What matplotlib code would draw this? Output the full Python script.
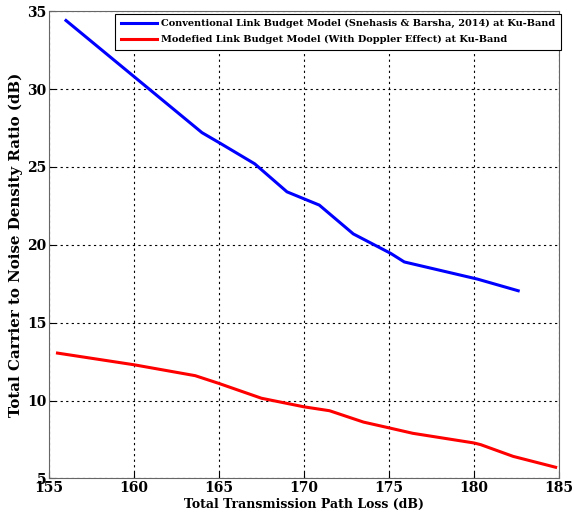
import matplotlib
matplotlib.use('Agg')
import matplotlib.pyplot as plt

# Conventional model (blue)
x_conv = [156.0, 160.0, 164.0, 165.1, 167.1, 169.0, 170.9, 172.9, 175.1, 175.9, 180.2, 182.6]
y_conv = [34.4, 30.8, 27.2, 26.5, 25.2, 23.4, 22.55, 20.7, 19.45, 18.9, 17.8, 17.05]

# Modified model with Doppler (red)
x_mod = [155.5, 160.0, 163.6, 165.0, 167.5, 170.0, 171.5, 173.5, 175.0, 176.4, 180.0, 180.4, 182.3, 184.8]
y_mod = [13.05, 12.3, 11.6, 11.1, 10.15, 9.6, 9.35, 8.62, 8.25, 7.9, 7.28, 7.17, 6.42, 5.72]

label_conv = 'Conventional Link Budget Model (Snehasis & Barsha, 2014) at Ku-Band'
label_mod = 'Modefied Link Budget Model (With Doppler Effect) at Ku-Band'

plt.rcParams['font.family'] = 'DejaVu Serif'
plt.rcParams['font.weight'] = 'bold'

fig = plt.figure(figsize=(5.75, 5.21), dpi=100)
ax = fig.add_axes([0.0852, 0.0816, 0.887, 0.897])

ax.plot(x_conv, y_conv, color='#0000ff', linewidth=2.2, label=label_conv)
ax.plot(x_mod, y_mod, color='#ff0000', linewidth=2.2, label=label_mod)

ax.set_xlim(155, 185)
ax.set_ylim(5, 35)
ax.set_xticks([155, 160, 165, 170, 175, 180, 185])
ax.set_yticks([5, 10, 15, 20, 25, 30, 35])
ax.grid(True, color='black', linestyle=(0, (2, 3)), linewidth=0.8)
ax.tick_params(direction='in', labelsize=10, pad=2, length=4)
for lab in ax.get_xticklabels() + ax.get_yticklabels():
    lab.set_fontweight('bold')
for s in ax.spines.values():
    s.set_color('#666666')

ax.set_xlabel('Total Transmission Path Loss (dB)', fontsize=9, fontweight='bold', labelpad=2)
ax.set_ylabel('Total Carrier to Noise Density Ratio (dB)', fontsize=10.8, fontweight='bold', labelpad=3)

leg = ax.legend(loc='upper right', bbox_to_anchor=(561 / 575, 1 - 14 / 521),
                bbox_transform=fig.transFigure, borderaxespad=0,
                fancybox=False, framealpha=1, edgecolor='black',
                handlelength=3.7, handletextpad=0.5, labelspacing=0.68,
                borderpad=0.55, prop={'weight': 'bold', 'size': 7})
leg.get_frame().set_linewidth(0.8)

fig.savefig('out.png', dpi=100)
